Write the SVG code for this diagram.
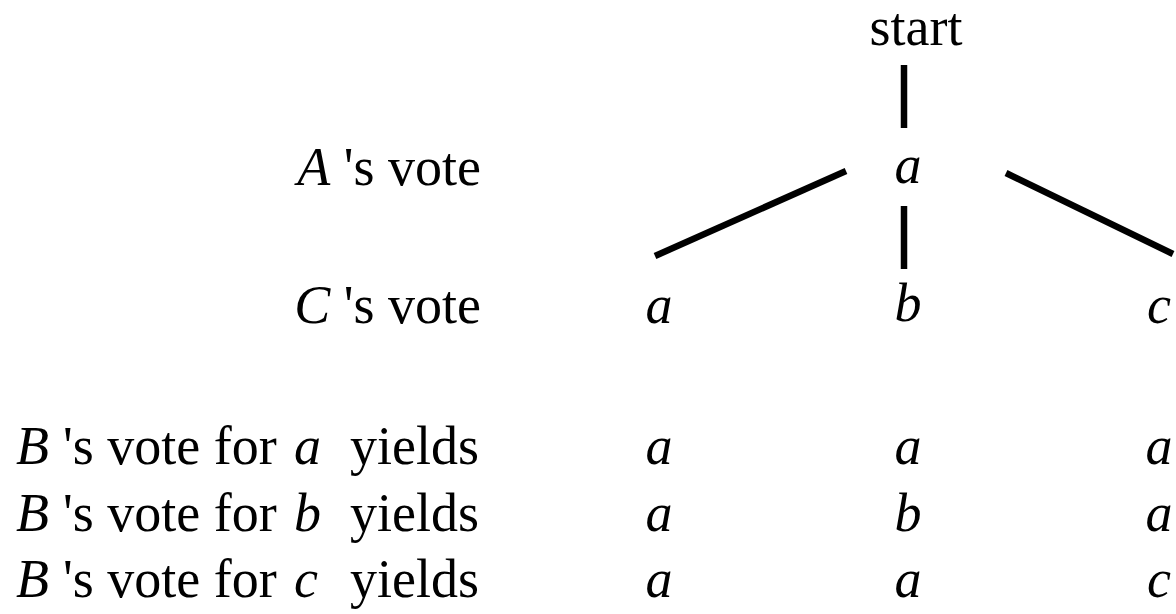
<svg xmlns="http://www.w3.org/2000/svg" width="1176" height="614" viewBox="0 0 1176 614">
<style>
text{font-family:"Liberation Serif","Times New Roman",serif;font-size:54px;fill:#000}
.i{font-style:italic}
.lbl{text-anchor:end}
.v{text-anchor:middle}
line{stroke:#000;stroke-width:6.5;stroke-linecap:butt}
</style>
<rect width="1176" height="614" fill="#fff"/>
<g id="labels">
<text class="lbl" x="481" y="185"><tspan class="i">A</tspan> 's vote</text>
<text class="lbl" x="481" y="323"><tspan class="i">C</tspan> 's vote</text>
<text y="464"><tspan class="i" x="16">B</tspan><tspan x="63">'s vote for</tspan><tspan class="i" x="294">a</tspan><tspan x="350">yields</tspan></text>
<text y="531"><tspan class="i" x="16">B</tspan><tspan x="63">'s vote for</tspan><tspan class="i" x="294">b</tspan><tspan x="350">yields</tspan></text>
<text y="597"><tspan class="i" x="16">B</tspan><tspan x="63">'s vote for</tspan><tspan class="i" x="294">c</tspan><tspan x="350">yields</tspan></text>
</g>
<g id="node-start"><text class="v" x="916" y="45">start</text></g>
<g id="node-A-a"><text class="v i" x="908" y="183">a</text></g>
<g id="node-C-a"><text class="v i" x="659" y="323">a</text></g>
<g id="node-C-b"><text class="v i" x="908" y="321">b</text></g>
<g id="node-C-c"><text class="v i" x="1159" y="323">c</text></g>
<g id="outcomes">
<text class="v i" x="659" y="464">a</text>
<text class="v i" x="908" y="464">a</text>
<text class="v i" x="1159" y="464">a</text>
<text class="v i" x="659" y="531">a</text>
<text class="v i" x="908" y="531">b</text>
<text class="v i" x="1159" y="531">a</text>
<text class="v i" x="659" y="597">a</text>
<text class="v i" x="908" y="597">a</text>
<text class="v i" x="1159" y="597">c</text>
</g>
<g id="connectors">
<line x1="904" y1="65" x2="904" y2="128"/>
<line x1="904" y1="206" x2="904" y2="269"/>
<line x1="655" y1="256" x2="846" y2="171"/>
<line x1="1006" y1="173" x2="1173" y2="254"/>
</g>
</svg>
